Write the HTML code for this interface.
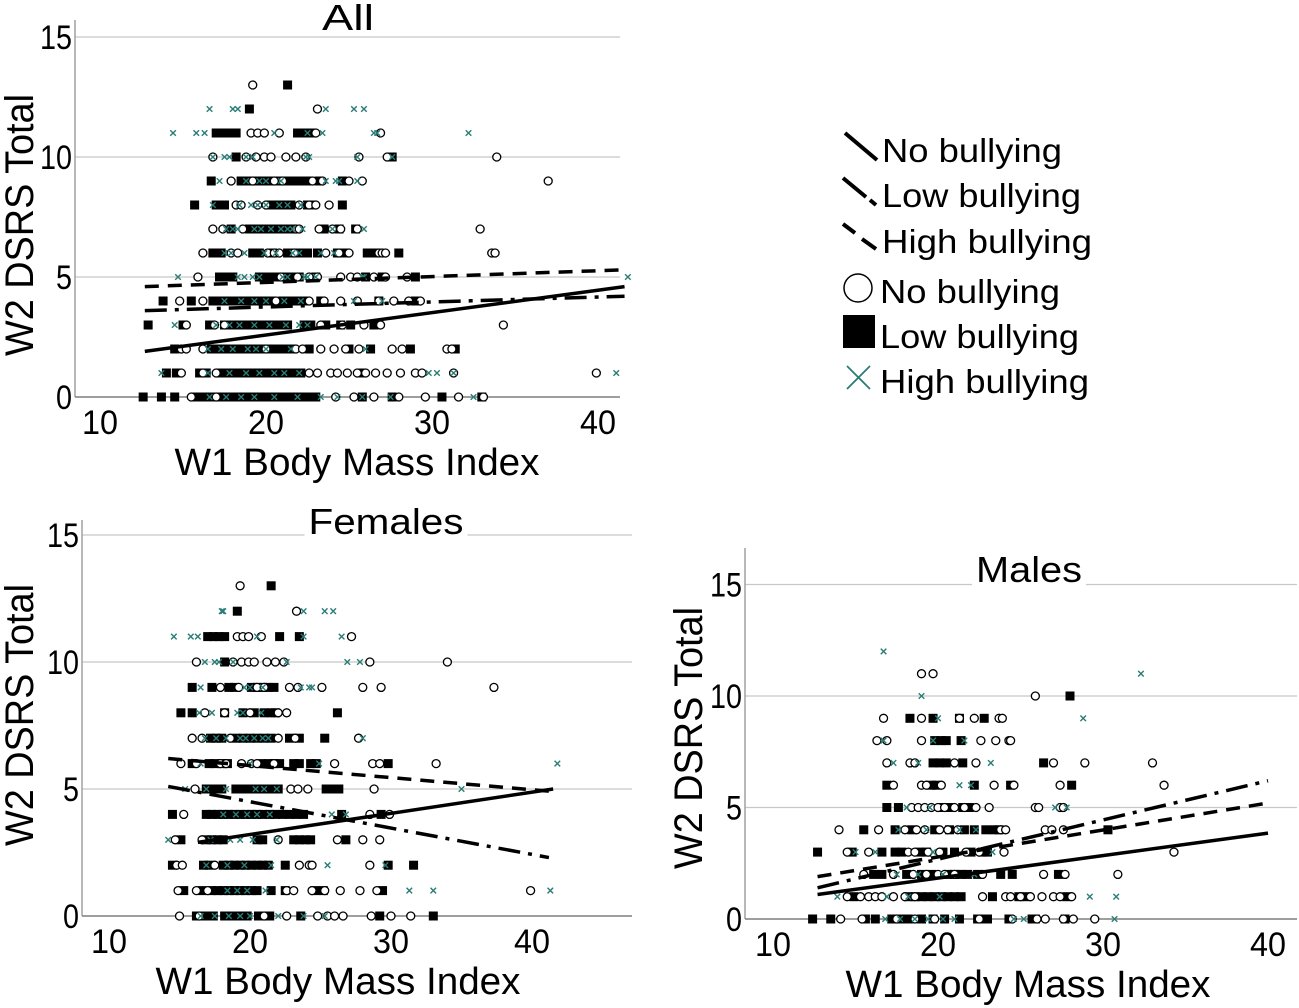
<!DOCTYPE html>
<html><head><meta charset="utf-8"><style>
html,body{margin:0;padding:0;background:#fff;}
svg{display:block;font-family:"Liberation Sans",sans-serif;}
</style></head><body>
<svg id="chart" width="1299" height="1008" viewBox="0 0 1299 1008" xmlns="http://www.w3.org/2000/svg">
<g id="legend">
  <g>
    <line x1="845" y1="133" x2="877" y2="160" stroke="#000" stroke-width="4"/>
    <text x="882" y="162" font-size="33" textLength="180" lengthAdjust="spacingAndGlyphs">No bullying</text></g>
  <g>
    <line x1="843" y1="178" x2="866" y2="197" stroke="#000" stroke-width="4"/>
    <line x1="870" y1="200" x2="876" y2="205" stroke="#000" stroke-width="4"/>
    <text x="882" y="207" font-size="33" textLength="199" lengthAdjust="spacingAndGlyphs">Low bullying</text></g>
  <g>
    <line x1="843" y1="224" x2="855" y2="233" stroke="#000" stroke-width="4"/>
    <line x1="862" y1="239" x2="876" y2="249" stroke="#000" stroke-width="4"/>
    <text x="882" y="253" font-size="33" textLength="210" lengthAdjust="spacingAndGlyphs">High bullying</text></g>
  <g>
    <circle cx="858" cy="288" r="14" fill="#fff" stroke="#000" stroke-width="1.5"/>
    <text x="880" y="303" font-size="33" textLength="180" lengthAdjust="spacingAndGlyphs">No bullying</text></g>
  <g>
    <rect x="843" y="315" width="32" height="33" fill="#000"/>
    <text x="880" y="348" font-size="33" textLength="199" lengthAdjust="spacingAndGlyphs">Low bullying</text></g>
  <g>
    <line x1="847" y1="366" x2="870" y2="389" stroke="#2a7d77" stroke-width="1.8"/>
    <line x1="870" y1="366" x2="847" y2="389" stroke="#2a7d77" stroke-width="1.8"/>
    <text x="880" y="393" font-size="33" textLength="209" lengthAdjust="spacingAndGlyphs">High bullying</text></g>
</g>
</svg>
<script>
// ---- data: rows of [y, circles(no bullying), squares(low), crosses(high)] ----
const yTicks = [0, 5, 10, 15];
const xTicks = [10, 20, 30, 40];
const allRows = [
 [13,[19.2],[21.3],[]],
 [12,[23.1],[19.0],[16.6,18.3,18.0,23.6,25.3,25.9]],
 [11,[19.1,19.5,19.9,20.8,23.0,26.9],[17.0,17.4,17.8,18.2,21.9,22.3,22.7],[14.4,15.8,16.3,20.5,22.5,23.4,26.5,26.7,32.2]],
 [10,[16.8,18.8,19.4,19.9,20.3,21.2,21.8,22.4,25.6,27.3,33.9],[18.2,27.6],[16.8,17.5,17.8,18.8,19.2,22.4,22.6,25.5,27.6]],
 [9,[17.9,19.2,20.5,21.0,22.8,23.4,25.0,25.8,37.0],[16.7,18.5,18.9,19.3,19.7,20.1,20.5,20.9,21.3,21.7,22.1,22.5,23.2,24.6],[17.2,18.8,19.6,20.0,20.9,23.6,24.2,24.4,25.5]],
 [8,[18.2,18.5,19.5,20.0,22.0,22.6,23.0,23.8],[15.7,17.0,17.5,20.3,20.7,21.0,21.5,22.5,22.8,24.6],[16.8,18.4,19.1,19.5,20.0,20.8,21.3,22.1]],
 [7,[16.8,17.4,18.6,21.8,22.0,23.2,24.0,24.5,25.5,32.9],[17.9,19.0,19.5,20.0,20.5,21.0,21.5,23.5,24.4,25.4],[17.6,18.0,18.3,19.3,19.7,20.3,20.9,21.3,21.6,22.2,24.0,25.9]],
 [6,[16.2,17.9,18.3,20.1,20.5,20.8,21.7,23.6,24.4,25.0,26.8,27.0,27.2,33.6,33.8],[16.8,17.3,19.2,19.6,20.4,21.3,21.7,22.1,22.5,23.1,24.3,24.7,26.1,26.5,28.0],[17.5,17.9,18.7,19.9,20.6,21.6,22.0,23.3,24.1]],
 [5,[15.9,20.9,21.9,22.6,23.1,24.5,25.1,25.5,26.5,27.2,28.5],[17.2,17.6,18.0,19.6,20.0,20.4,20.8,21.2,21.6,22.0,23.0,26.0,27.0,29.0],[14.7,18.3,18.7,19.2,19.6,21.0,21.3,22.3,22.5,23.0,25.8,25.9,41.8]],
 [4,[14.8,16.2,20.6,22.6,23.5,24.5,25.5,26.8,27.7,28.6,29.3],[13.8,15.5,16.8,17.2,17.6,18.0,18.4,18.8,19.2,19.6,20.0,20.4,21.0,21.4,21.8,22.3,23.3,26.8,29.0],[17.5,18.5,19.3,20.0,21.1,22.1,25.3,27.0]],
 [3,[15.2,16.9,17.5,23.3,24.6,25.9,26.9,34.3],[12.9,15.0,16.6,17.5,18.0,18.4,18.8,19.3,19.7,20.1,20.5,20.9,21.3,22.3,22.7,23.6,24.5,25.1,26.5],[14.5,17.0,17.8,18.4,19.3,20.2,21.2,22.0,22.5]],
 [2,[14.9,15.2,16.2,20.0,21.8,22.2,23.3,24.1,24.8,25.6,27.6,28.2,30.9,31.2],[14.5,16.7,17.1,17.5,17.9,18.3,18.7,19.1,19.5,19.9,20.3,20.7,21.1,21.5,22.6,25.0,26.3,28.7,31.4],[16.5,17.3,18.0,18.9,19.4,20.0,21.5,26.0]],
 [1,[14.9,16.2,17.0,22.6,23.1,23.9,24.3,24.9,25.5,26.0,26.6,27.3,28.1,29.0,29.4,31.3,39.9],[14.0,14.6,16.0,16.4,17.3,17.7,18.1,18.5,18.9,19.3,19.7,20.1,20.5,20.9,21.3,21.7,22.1,25.8],[13.7,16.5,17.8,18.8,19.6,20.5,21.1,22.0,29.8,30.3,31.3,41.1]],
 [0,[15.5,17.0,24.2,25.3,26.5,28.0,29.6,31.6,33.1],[12.6,13.7,14.5,15.8,16.2,16.6,17.0,17.4,17.8,18.2,18.6,19.0,19.4,19.8,20.2,20.6,21.0,21.4,21.8,22.2,22.6,23.0,25.8,27.6,30.6,33.0],[16.6,17.6,18.5,19.3,20.5,21.9,23.3,24.3,25.8,27.5,32.5]]
];
const femRows = [
 [13,[19.3],[21.5],[]],
 [12,[23.3],[19.1],[18.1,18.0,23.8,25.3,25.9]],
 [11,[19.1,19.5,19.9,20.8,27.2],[17.0,17.4,17.8,18.2,22.1,23.5],[14.6,15.8,16.3,20.5,23.8,26.5]],
 [10,[16.2,18.8,19.4,19.9,20.3,21.2,21.8,22.4,28.5,34.0],[18.2],[16.8,17.5,17.8,18.8,22.6,26.9,27.8]],
 [9,[17.9,19.2,20.5,21.0,22.8,23.4,25.1,28.0,29.3,37.3],[15.9,17.3,18.5,18.9,20.1,20.5,20.9,21.3,21.7],[16.5,19.6,20.0,20.9,23.6,24.2,24.4]],
 [8,[16.8,18.2,20.0,22.0,22.6],[15.1,15.9,18.2,19.5,20.3,21.0,21.5,21.8,26.2],[16.4,17.3,19.1,19.5,20.8]],
 [7,[15.9,16.6,18.6,22.0,23.2,27.7],[17.2,17.6,18.0,19.0,19.5,20.0,20.5,21.0,21.5,22.8,23.5,25.3],[16.8,17.6,18.3,19.3,19.7,20.3,20.9,21.3,28.0]],
 [6,[15.1,16.2,17.9,18.3,19.4,20.1,20.5,21.7,26.0,28.7,29.2,33.2],[15.9,17.1,17.5,18.0,18.4,20.8,21.3,21.7,22.1,23.1,23.5,24.3,24.7,29.8],[16.5,20.0,24.9,41.8]],
 [5,[16.1,22.9,23.4,24.1,28.8],[16.9,17.2,17.6,18.0,19.0,19.6,20.0,20.4,20.8,21.2,21.6,22.0,25.4,25.8,26.3],[15.4,16.9,18.3,20.4,21.0,21.9,35.0]],
 [4,[15.3,28.5,29.9],[14.5,16.9,17.3,17.7,18.1,18.5,18.9,19.3,19.7,20.1,20.5,20.9,21.4,21.8,22.3,22.8,23.3,23.8,26.5,29.3],[18.1,19.0,19.8,20.5,21.4,25.8,26.8]],
 [3,[14.7,16.6,22.0,26.2,28.0,29.2],[15.1,16.9,17.3,17.7,18.1,20.5,20.9,23.1,23.5,23.9,24.3,26.8],[14.2,17.2,18.6,19.3,20.2,21.9]],
 [2,[14.8,15.2,17.5,23.5,24.2,24.4,28.5],[14.5,16.7,17.1,18.1,18.5,18.9,19.3,19.7,20.1,20.5,20.9,21.3,22.5,29.8,31.6],[16.9,18.4,19.6,21.5,25.5,29.6]],
 [1,[14.9,16.2,17.0,22.6,23.1,24.4,25.3,26.4,27.8,29.0,39.9],[15.3,16.6,17.3,17.7,18.1,18.5,18.9,19.3,19.7,20.1,20.5,21.5,22.5,24.6,25.2,29.4],[18.4,19.1,19.8,21.1,31.3,33.0,41.3]],
 [0,[15.0,16.4,21.0,22.6,24.8,25.5,26.0,26.6,28.6,30.0,31.4],[16.2,16.6,17.0,17.4,18.2,18.6,19.0,19.4,19.8,20.6,21.0,21.4,23.6,29.2,33.0],[16.5,17.5,18.5,19.3,20.0,22.0,23.8,25.3]]
];
const maleRows = [
 [12,[],[],[16.7]],
 [11,[19.0,19.7],[],[32.3]],
 [10,[25.9],[28.0],[19.0]],
 [9,[16.7,19.0,21.3,22.2,23.7,23.9],[18.3,19.7,21.3,22.8],[20.0,28.8]],
 [8,[16.3,16.9,19.0,22.6,23.5,24.3,24.4],[19.8,20.2,20.5,21.4],[16.7,19.7,21.6]],
 [7,[16.9,18.3,18.6,21.0,22.3,27.0,28.9,33.0],[19.7,20.1,20.5,21.5,26.4],[17.3,18.8,23.2]],
 [6,[17.3,19.0,19.3,20.2,23.4,24.6,27.4,33.7],[16.9,19.6,19.9,22.2,24.4,28.1],[21.3,22.0]],
 [5,[18.4,18.8,19.2,19.6,20.0,20.4,21.0,21.6,22.3,23.1,25.9,26.1,27.4,27.6],[16.9,17.6,20.3,20.7,21.5,21.9],[18.1,19.5,27.1,27.8]],
 [4,[14.0,16.4,18.0,18.7,19.2,20.1,20.6,21.2,23.8,24.1,26.5,26.9,27.6],[15.5,17.4,18.4,19.8,20.7,21.6,22.2,22.9,23.4,23.7,30.3],[17.6,19.3,21.3,22.3]],
 [3,[14.5,15.8,18.2,18.6,19.4,20.1,21.7,22.5,24.0,34.3],[12.7,14.8,16.6,17.4,17.8,18.9,19.3,20.3,21.0,22.0,22.7,23.0],[15.0,16.2,19.7,23.3]],
 [2,[15.5,17.3,18.5,19.3,20.0,20.4,21.0,22.7,26.4,27.7,30.9],[16.1,16.6,18.1,19.0,19.6,20.6,21.0,21.4,21.8,22.4,23.8,24.5,27.3],[17.5,18.8,20.3,22.2]],
 [1,[14.5,15.3,15.8,16.2,16.6,17.3,18.0,18.6,22.7,24.1,24.4,25.0,25.6,26.3,27.0,27.4,28.1],[14.9,18.2,18.6,19.0,19.4,19.8,20.2,20.6,21.0,21.4,23.3,24.9,25.4,27.8],[13.9,16.9,18.2,20.1,29.2,30.8]],
 [0,[14.1,15.4,17.5,18.6,19.8,22.5,24.5,26.0,26.5,27.6,28.2,29.5],[12.4,13.5,15.6,16.2,17.2,17.7,18.2,19.0,19.7,20.4,21.3,22.4,22.7,23.0,24.3,25.7,25.9,27.7],[16.8,17.7,18.6,19.4,20.3,21.0,24.6,25.2,30.7]]
];
// regression lines: [x0, y0, x1, y1] in data units
const allLineNo = [12.7, 1.9, 41.6, 4.6];
const allLineLow = [12.7, 3.6, 41.6, 4.2];
const allLineHigh = [12.7, 4.6, 41.6, 5.3];
const femLineNo = [16.3, 2.9, 41.5, 5.0];
const femLineLow = [14.2, 5.1, 41.2, 2.3];
const femLineHigh = [14.2, 6.2, 41.5, 4.9];
const maleLineNo = [12.7, 1.1, 40.0, 3.85];
const maleLineLow = [12.7, 1.4, 40.0, 6.2];
const maleLineHigh = [12.7, 1.9, 40.0, 5.2];

const NS = "http://www.w3.org/2000/svg";
const svg = document.getElementById('chart');
function mk(tag, attrs, parent) {
  const e = document.createElementNS(NS, tag);
  for (const k in attrs) e.setAttribute(k, attrs[k]);
  parent.appendChild(e);
  return e;
}
function panel(cfg, rows, lNo, lLow, lHigh) {
  const g = mk('g', {}, svg);
  
  
  const X = v => cfg.x0 + (v - 10) * cfg.kx;
  const Y = v => cfg.y0 - v * cfg.ky;
  yTicks.forEach(t => {
    if (t === 0) return;
    const l = mk('line', {x1: cfg.left, x2: cfg.right, y1: Y(t), y2: Y(t), stroke: '#c8c8c8', 'stroke-width': 1.3}, g);
    
    
  });
  const ax = mk('line', {x1: cfg.left, x2: cfg.left, y1: cfg.top, y2: cfg.y0, stroke: '#a0a0a0', 'stroke-width': 1.5}, g);
  
  
  const bx = mk('line', {x1: cfg.left, x2: cfg.right, y1: cfg.y0, y2: cfg.y0, stroke: '#909090', 'stroke-width': 1.8}, g);
  
  
  yTicks.forEach(t => {
    const tx = mk('text', {x: cfg.left - 3, y: Y(t) + 12, 'font-size': 34, 'text-anchor': 'end', textLength: t >= 10 ? 32 : 16, lengthAdjust: 'spacingAndGlyphs'}, g);
    tx.textContent = t;
    
    
  });
  xTicks.forEach(t => {
    const tx = mk('text', {x: X(t), y: cfg.y0 + 37, 'font-size': 34, 'text-anchor': 'middle', textLength: 36, lengthAdjust: 'spacingAndGlyphs'}, g);
    tx.textContent = t;
    
    
  });
  mk('rect', {x: cfg.titleX - cfg.titleW / 2 - 4, y: cfg.titleY - 30, width: cfg.titleW + 8, height: 34, fill: '#fff'}, g);
  const ti = mk('text', {x: cfg.titleX, y: cfg.titleY, 'font-size': 36, 'text-anchor': 'middle', textLength: cfg.titleW, lengthAdjust: 'spacingAndGlyphs'}, g);
  ti.textContent = cfg.title;
  
  
  const xt = mk('text', {x: cfg.xtX, y: cfg.y0 + 78, 'font-size': 38, 'text-anchor': 'middle', textLength: 365, lengthAdjust: 'spacingAndGlyphs'}, g);
  xt.textContent = 'W1 Body Mass Index';
  
  
  const yt = mk('text', {x: 0, y: 0, 'font-size': 40, 'text-anchor': 'middle', textLength: 262, lengthAdjust: 'spacingAndGlyphs', transform: 'translate(' + cfg.ytX + ',' + cfg.ytY + ') rotate(-90)'}, g);
  yt.textContent = 'W2 DSRS Total';
  
  
  const pts = mk('g', {}, g);
  
  
  rows.forEach(r => {
    const y = Y(r[0]);
    r[2].forEach(v => {
      const s = mk('rect', {x: X(v) - 4.5, y: y - 4.5, width: 9, height: 9, fill: '#000'}, pts);
      
      
    });
    r[1].forEach(v => {
      const c = mk('circle', {cx: X(v), cy: y, r: 4, fill: '#fff', stroke: '#000', 'stroke-width': 1.3}, pts);
      
      
    });
    r[3].forEach(v => {
      const p = mk('path', {d: 'M' + (X(v) - 2.8) + ' ' + (y - 2.8) + 'l5.6 5.6M' + (X(v) + 2.8) + ' ' + (y - 2.8) + 'l-5.6 5.6', stroke: '#2a7d77', 'stroke-width': 1.4}, pts);
      
      
    });
  });
  const lines = [[lNo, 'none', 'fit-line-no-bullying'], [lLow, '22 8 4 8', 'fit-line-low-bullying'], [lHigh, '14 9', 'fit-line-high-bullying']];
  lines.forEach(L => {
    const d = L[0];
    const ln = mk('line', {x1: X(d[0]), y1: Y(d[1]), x2: X(d[2]), y2: Y(d[3]), stroke: '#000', 'stroke-width': 3.5, 'stroke-dasharray': L[1]}, g);
    
    
  });
}
panel({name: 'panel-all', x0: 100, kx: 16.6, y0: 397, ky: 24, left: 75, right: 620, top: 20,
  title: 'All', titleX: 348, titleY: 30, titleW: 52, xtX: 357, ytX: 33, ytY: 225}, allRows, allLineNo, allLineLow, allLineHigh);
panel({name: 'panel-females', x0: 109, kx: 14.1, y0: 916, ky: 25.4, left: 82, right: 632, top: 520,
  title: 'Females', titleX: 386, titleY: 534, titleW: 155, xtX: 338, ytX: 33, ytY: 715}, femRows, femLineNo, femLineLow, femLineHigh);
panel({name: 'panel-males', x0: 773, kx: 16.5, y0: 919, ky: 22.3, left: 745, right: 1297, top: 548,
  title: 'Males', titleX: 1029, titleY: 582, titleW: 106, xtX: 1028, ytX: 702, ytY: 738}, maleRows, maleLineNo, maleLineLow, maleLineHigh);
svg.appendChild(document.getElementById('legend'));
</script>
</body></html>
